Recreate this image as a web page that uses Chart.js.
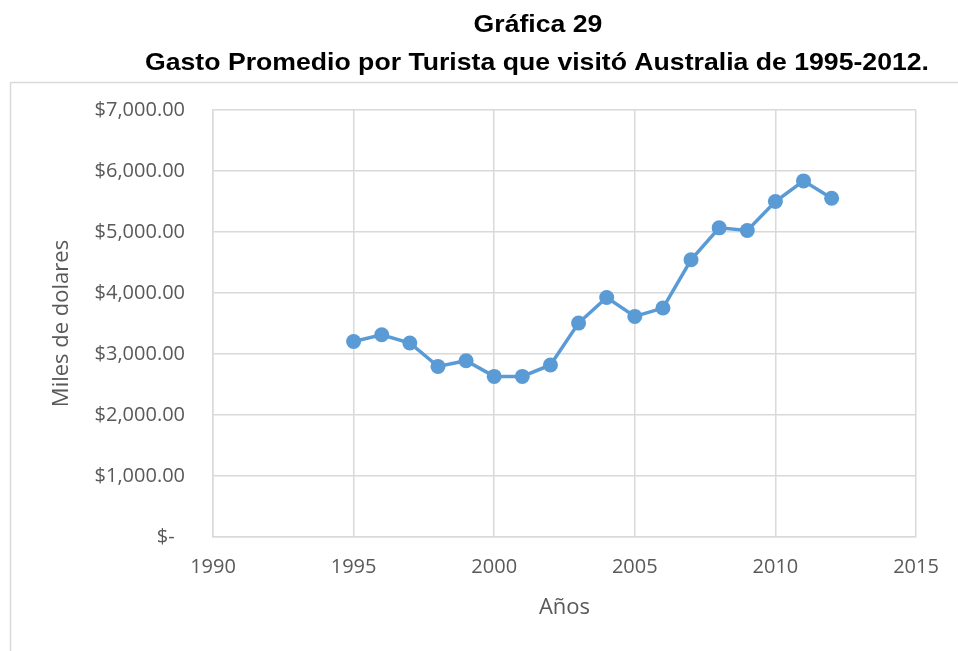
<!DOCTYPE html>
<html><head><meta charset="utf-8">
<script src="https://cdn.jsdelivr.net/npm/chart.js@4"></script>
<style>html,body{margin:0;padding:0;background:#fff;overflow:hidden}#wrap{position:relative;width:958px;height:651px}canvas{display:block}</style>
</head><body><div id="wrap"><canvas id="c" width="958" height="651"></canvas></div>
<script>
const years = [1995,1996,1997,1998,1999,2000,2001,2002,2003,2004,2005,2006,2007,2008,2009,2010,2011,2012];
const gasto = [3206,3316,3180,2797,2890,2633,2633,2820,3507,3927,3616,3753,4544,5068,5024,5499,5838,5554];
const xTicks = [1990,1995,2000,2005,2010,2015];
const yTicks = [0,1000,2000,3000,4000,5000,6000,7000];
const titleText = 'Gráfica 29';
const subtitleText = 'Gasto Promedio por Turista que visitó Australia de 1995-2012.';
const xTitle = 'Años';
const yTitle = 'Miles de dolares';

const gridColor = '#d9d9d9';
const textColor = '#595959';
const lineColor = '#5B9BD5';
const tickFont = {family: 'Open Sans', size: 20};
const axisTitleFont = {family: 'Open Sans', size: 22};

function stretchedText(ctx, text, cx, baseline, sx) {
  ctx.save();
  ctx.translate(cx, baseline);
  ctx.scale(sx, 1);
  ctx.fillText(text, 0, 0);
  ctx.restore();
}

const decor = {
  id: 'decor',
  beforeDraw(chart) {
    const ctx = chart.ctx;
    ctx.save();
    ctx.fillStyle = '#fff';
    ctx.fillRect(0, 0, chart.width, chart.height);
    ctx.strokeStyle = gridColor;
    ctx.lineWidth = 1.5;
    ctx.strokeRect(10.5, 82.5, 1000, 1000);
    ctx.fillStyle = '#000';
    ctx.font = 'bold 24px "Liberation Sans", Arial, sans-serif';
    ctx.textAlign = 'center';
    ctx.textBaseline = 'alphabetic';
    const sx = 784 / ctx.measureText(subtitleText).width;
    stretchedText(ctx, titleText, 538, 32, sx);
    stretchedText(ctx, subtitleText, 537, 70, sx);
    ctx.restore();
  }
};

new Chart(document.getElementById('c'), {
  type: 'line',
  data: {
    datasets: [{
      data: years.map((y, i) => ({x: y, y: gasto[i]})),
      borderColor: lineColor,
      backgroundColor: lineColor,
      pointBackgroundColor: lineColor,
      pointBorderColor: lineColor,
      borderWidth: 3.5,
      pointRadius: 7.5,
      pointBorderWidth: 0,
      tension: 0,
      fill: false
    }]
  },
  options: {
    responsive: false,
    animation: false,
    events: [],
    layout: {padding: {top: 110, left: 40, right: 42, bottom: 14}},
    plugins: {legend: {display: false}, tooltip: {enabled: false}, title: {display: false}},
    scales: {
      x: {
        type: 'linear', min: 1990, max: 2015,
        afterBuildTicks: s => { s.ticks = xTicks.map(v => ({value: v})); },
        afterFit: s => { s.height = 100; },
        ticks: {callback: v => String(v), color: textColor, font: tickFont, padding: 18, maxRotation: 0},
        grid: {color: gridColor, lineWidth: 1.5, drawTicks: false},
        border: {display: true, color: gridColor, width: 1.5},
        title: {display: true, text: xTitle, color: textColor, font: axisTitleFont, padding: {top: 10, bottom: 16}}
      },
      y: {
        min: 0, max: 7000,
        afterBuildTicks: s => { s.ticks = yTicks.map(v => ({value: v})); },
        afterFit: s => { s.width = 173; },
        ticks: {
          callback: v => v === 0 ? '$-  ' : '$' + v.toLocaleString('en-US', {minimumFractionDigits: 2, maximumFractionDigits: 2}),
          color: textColor, font: tickFont, padding: 28
        },
        grid: {color: gridColor, lineWidth: 1.5, drawTicks: false},
        border: {display: true, color: gridColor, width: 1.5},
        title: {display: true, text: yTitle, color: textColor, font: axisTitleFont, padding: {top: 9, bottom: 0}}
      }
    }
  },
  plugins: [decor]
});
</script>
</body></html>
